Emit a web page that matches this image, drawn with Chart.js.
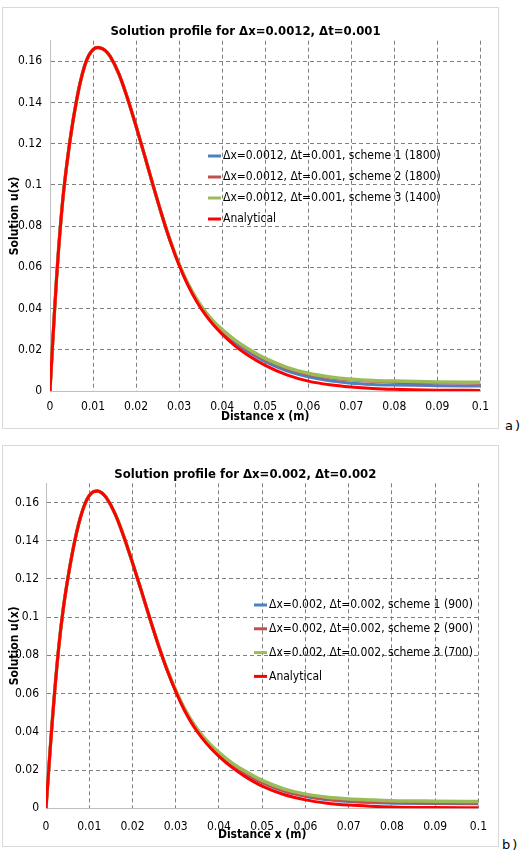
<!DOCTYPE html>
<html lang="en">
<head>
<meta charset="UTF-8">
<title>Solution profiles</title>
<script src="https://cdn.jsdelivr.net/npm/chart.js"></script>
<style>
    body { margin: 0; background: #fff; }
    #page { position: relative; width: 522px; height: 863px; }
    .box { position: absolute; left: 2px; width: 495px; border: 1px solid #d9d9d9; }
    #boxA { top: 7px; height: 420px; }
    #boxB { top: 445px; height: 400px; }
    .tag { position: absolute; font: 13px 'DejaVu Sans', sans-serif; letter-spacing: 2px; color: #000; }
</style>
</head>
<body>
<div id="page">
    <div class="box" id="boxA"><canvas id="graficoA"></canvas></div>
    <div class="tag" style="left:505px; top:418px;">a)</div>
    <div class="box" id="boxB"><canvas id="graficoB"></canvas></div>
    <div class="tag" style="left:502px; top:837px;">b)</div>
</div>

<script>
    // positions along x (same sampling for both panels)
    var posX = [0, 0.0005, 0.001, 0.0015, 0.002, 0.003, 0.004, 0.005, 0.006, 0.007, 0.008, 0.009, 0.010, 0.011, 0.012, 0.013, 0.014,
        0.016, 0.018, 0.020, 0.022, 0.024, 0.026, 0.028, 0.030, 0.032, 0.034, 0.036, 0.038, 0.040,
        0.043, 0.046, 0.050, 0.055, 0.060, 0.065, 0.070, 0.075, 0.080, 0.090, 0.100];

    // panel a)
    var exactA = [0, 0.019, 0.037, 0.054, 0.069, 0.0935, 0.1115, 0.1265, 0.139, 0.1495, 0.1575, 0.1628, 0.1657, 0.1667, 0.1663, 0.1649, 0.1623,
        0.1539, 0.1421, 0.1285, 0.1141, 0.0994, 0.0853, 0.0723, 0.0610, 0.0515, 0.0437, 0.0373, 0.0320, 0.0276,
        0.0219, 0.0173, 0.0124, 0.0078, 0.0048, 0.0030, 0.0019, 0.0012, 0.0008, 0.0004, 0.0003];
    var blueA = [0, 0.019, 0.037, 0.054, 0.069, 0.0935, 0.1115, 0.1265, 0.139, 0.1495, 0.1575, 0.1628, 0.1657, 0.1667, 0.1663, 0.1649, 0.1623,
        0.1539, 0.1421, 0.1285, 0.1141, 0.0994, 0.0853, 0.0724, 0.0613, 0.0520, 0.0443, 0.0380, 0.0330, 0.0289,
        0.0235, 0.0190, 0.0142, 0.0098, 0.0069, 0.0050, 0.0038, 0.0032, 0.0029, 0.0026, 0.0024];
    var brownA = [0, 0.019, 0.037, 0.054, 0.069, 0.0935, 0.1115, 0.1265, 0.139, 0.1495, 0.1575, 0.1628, 0.1657, 0.1667, 0.1663, 0.1649, 0.1623,
        0.1539, 0.1421, 0.1285, 0.1141, 0.0994, 0.0853, 0.0725, 0.0614, 0.0522, 0.0446, 0.0385, 0.0335, 0.0295,
        0.0243, 0.0200, 0.0153, 0.0110, 0.0081, 0.0063, 0.0053, 0.0047, 0.0043, 0.0040, 0.0038];
    var greenA = [0, 0.019, 0.037, 0.054, 0.069, 0.0935, 0.1115, 0.1265, 0.139, 0.1495, 0.1575, 0.1628, 0.1657, 0.1667, 0.1663, 0.1649, 0.1623,
        0.1539, 0.1421, 0.1285, 0.1141, 0.0994, 0.0853, 0.0725, 0.0615, 0.0523, 0.0448, 0.0387, 0.0338, 0.0298,
        0.0247, 0.0205, 0.0158, 0.0115, 0.0086, 0.0068, 0.0057, 0.0051, 0.0048, 0.0044, 0.0042];

    // panel b)
    var exactB = [0, 0.016, 0.032, 0.047, 0.061, 0.0855, 0.1045, 0.1195, 0.1325, 0.1435, 0.1525, 0.1592, 0.1636, 0.1657, 0.1660, 0.1648, 0.1623,
        0.1539, 0.1421, 0.1285, 0.1141, 0.0994, 0.0853, 0.0723, 0.0610, 0.0513, 0.0434, 0.0370, 0.0317, 0.0272,
        0.0214, 0.0167, 0.0116, 0.0072, 0.0044, 0.0027, 0.0017, 0.0011, 0.0007, 0.0004, 0.0003];
    var blueB = [0, 0.016, 0.032, 0.047, 0.061, 0.0855, 0.1045, 0.1195, 0.1325, 0.1435, 0.1525, 0.1592, 0.1636, 0.1657, 0.1660, 0.1648, 0.1623,
        0.1539, 0.1421, 0.1285, 0.1141, 0.0994, 0.0853, 0.0725, 0.0615, 0.0518, 0.0440, 0.0377, 0.0325, 0.0283,
        0.0228, 0.0184, 0.0134, 0.0090, 0.0062, 0.0045, 0.0036, 0.0030, 0.0027, 0.0025, 0.0024];
    var brownB = [0, 0.016, 0.032, 0.047, 0.061, 0.0855, 0.1045, 0.1195, 0.1325, 0.1435, 0.1525, 0.1592, 0.1636, 0.1657, 0.1660, 0.1648, 0.1623,
        0.1539, 0.1421, 0.1285, 0.1141, 0.0994, 0.0853, 0.0726, 0.0616, 0.0520, 0.0442, 0.0379, 0.0328, 0.0286,
        0.0231, 0.0187, 0.0137, 0.0093, 0.0065, 0.0048, 0.0039, 0.0033, 0.0030, 0.0028, 0.0027];
    var greenB = [0, 0.016, 0.032, 0.047, 0.061, 0.0855, 0.1045, 0.1195, 0.1325, 0.1435, 0.1525, 0.1592, 0.1636, 0.1657, 0.1660, 0.1648, 0.1623,
        0.1539, 0.1421, 0.1285, 0.1141, 0.0994, 0.0853, 0.0727, 0.0618, 0.0523, 0.0446, 0.0384, 0.0334, 0.0292,
        0.0238, 0.0195, 0.0146, 0.0102, 0.0074, 0.0058, 0.0049, 0.0044, 0.0040, 0.0037, 0.0035];

    var legendA = ['Δx=0.0012, Δt=0.001, scheme 1 (1800)', 'Δx=0.0012, Δt=0.001, scheme 2 (1800)', 'Δx=0.0012, Δt=0.001, scheme 3 (1400)', 'Analytical'];
    var legendB = ['Δx=0.002, Δt=0.002, scheme 1 (900)', 'Δx=0.002, Δt=0.002, scheme 2 (900)', 'Δx=0.002, Δt=0.002, scheme 3 (700)', 'Analytical'];
    var titleA = 'Solution profile for Δx=0.0012, Δt=0.001';
    var titleB = 'Solution profile for Δx=0.002, Δt=0.002';
    var xTitle = 'Distance x (m)';
    var yTitle = 'Solution u(x)';

    var cores = ['#4F81BD', '#C0504D', '#9BBB59', '#FF0000'];
    var fonte = "'Liberation Sans Narrow', 'DejaVu Sans Condensed', 'Arial Narrow', sans-serif";

    function pontos(ys) {
        return posX.map(function (x, i) { return { x: x, y: ys[i] }; });
    }

    function formata(v) {
        return String(Number(v.toFixed(3)));
    }

    // legend drawn inside the plot, like the spreadsheet one
    var legendaDentro = {
        id: 'legendaDentro',
        afterDraw: function (chart, args, opts) {
            var ctx = chart.ctx;
            ctx.save();
            ctx.font = '12px ' + fonte;
            ctx.textBaseline = 'middle';
            chart.data.datasets.forEach(function (ds, i) {
                var y = opts.y + i * opts.passo;
                ctx.strokeStyle = ds.borderColor;
                ctx.lineWidth = 3;
                ctx.beginPath();
                ctx.moveTo(opts.x, y);
                ctx.lineTo(opts.x + 13, y);
                ctx.stroke();
                ctx.fillStyle = '#000';
                ctx.fillText(ds.label, opts.x + 15, y);
            });
            ctx.restore();
        }
    };

    function Gerar(id, titulo, series, nomes, cfg) {
        var ctx = document.getElementById(id).getContext('2d');
        var conjuntos = series.map(function (s, i) {
            return {
                label: nomes[i],
                data: pontos(s),
                borderColor: cores[i],
                backgroundColor: cores[i],
                borderWidth: i === 2 ? 3.5 : 3,
                pointRadius: 0,
                cubicInterpolationMode: 'monotone',
                order: 3 - i
            };
        });

        return new Chart(ctx, {
            type: 'line',
            data: { datasets: conjuntos },
            options: {
                responsive: true,
                maintainAspectRatio: false,
                animation: false,
                layout: { padding: { left: 0, right: cfg.direita, top: 0, bottom: 0 } },
                plugins: {
                    legend: { display: false },
                    tooltip: { enabled: false },
                    title: {
                        display: true,
                        text: titulo,
                        color: '#000',
                        font: { family: fonte, size: 13, weight: 'bold' },
                        padding: { top: cfg.tituloTopo, bottom: cfg.tituloBaixo }
                    },
                    legendaDentro: cfg.legenda
                },
                scales: {
                    x: {
                        type: 'linear',
                        min: 0,
                        max: 0.1,
                        ticks: { stepSize: 0.01, padding: cfg.xPad, color: '#000', font: { family: fonte, size: 12 }, callback: formata, maxRotation: 0 },
                        grid: { drawTicks: false, color: function (c) { return c.index === 0 ? 'rgba(0,0,0,0)' : '#808080'; } },
                        border: { color: '#bfbfbf', dash: [4, 3] },
                        title: { display: true, text: xTitle, color: '#000', font: { family: fonte, size: 12, weight: 'bold' }, padding: { top: 0, bottom: 4 } },
                        afterFit: function (s) { s.height = cfg.xAltura; }
                    },
                    y: {
                        min: 0,
                        max: 0.17,
                        ticks: { stepSize: 0.02, padding: cfg.yPad, color: '#000', font: { family: fonte, size: 12 }, callback: formata },
                        afterBuildTicks: function (s) { s.ticks = s.ticks.filter(function (t) { return t.value < 0.1605; }); },
                        grid: { drawTicks: false, color: function (c) { return c.index === 0 ? 'rgba(0,0,0,0)' : '#808080'; } },
                        border: { color: '#bfbfbf', dash: [4, 3] },
                        title: { display: true, text: yTitle, color: '#000', font: { family: fonte, size: 12, weight: 'bold' }, padding: { top: 5, bottom: 0 } },
                        afterFit: function (s) { s.width = cfg.yLargura; }
                    }
                }
            },
            plugins: [legendaDentro]
        });
    }

    Gerar('graficoA', titleA, [blueA, brownA, greenA, exactA], legendA, {
        direita: 10, tituloTopo: 16, tituloBaixo: 1.1, xPad: 9, yPad: 8, xAltura: 37, yLargura: 47,
        legenda: { x: 205, y: 148, passo: 21 }
    });

    Gerar('graficoB', titleB, [blueB, brownB, greenB, exactB], legendB, {
        direita: 10.3, tituloTopo: 21, tituloBaixo: 0.7, xPad: 11, yPad: 7, xAltura: 37.7, yLargura: 43,
        legenda: { x: 251, y: 159, passo: 23.8 }
    });
</script>
</body>
</html>
